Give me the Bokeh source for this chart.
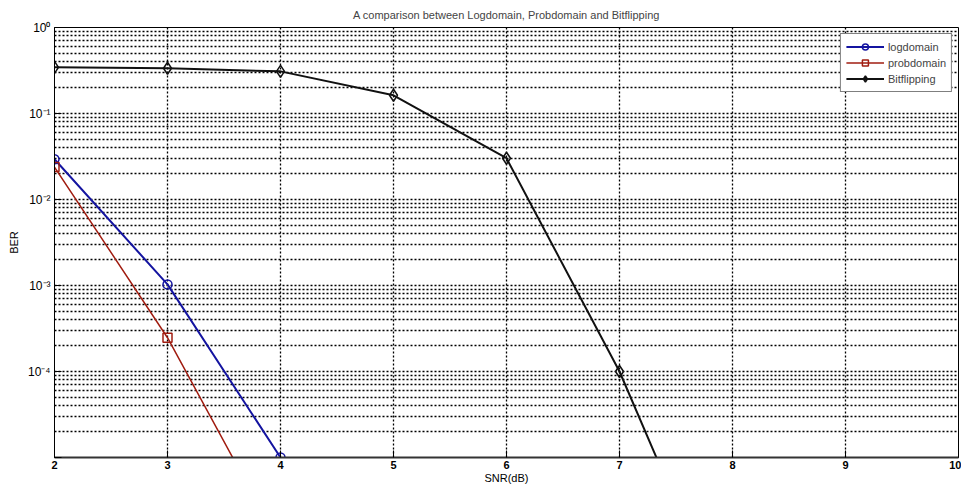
from bokeh.plotting import figure
from bokeh.models import Range1d, FixedTicker, CustomJSTickFormatter
from bokeh.embed import file_html
from bokeh.resources import INLINE

log_snr = [2, 3, 4]
log_ber = [0.0294, 0.00103, 1e-5]
prob_snr = [2, 3, 4]
prob_ber = [0.0238, 2.47e-4, 9.5e-7]
bit_snr = [2, 3, 4, 5, 6, 7, 8]
bit_ber = [0.344, 0.336, 0.309, 0.163, 0.0302, 1.0e-4, 8.7e-8]

x_ticks = [2, 3, 4, 5, 6, 7, 8, 9, 10]
y_ticks = [1e-5, 1e-4, 1e-3, 1e-2, 1e-1, 1e0]
y_minor = [m * d for d in [1e-5, 1e-4, 1e-3, 1e-2, 1e-1] for m in range(2, 10)]

FONT = "Liberation Sans"

p = figure(width=961, height=490, output_backend="svg", toolbar_location=None,
           y_axis_type="log", x_range=Range1d(2, 10), y_range=Range1d(1e-5, 1),
           min_border_left=54, min_border_right=3, min_border_top=0, min_border_bottom=33)

p.title.text = "A comparison between Logdomain, Probdomain and Bitflipping"
p.title.align = "center"
p.title.text_font = FONT
p.title.text_font_size = "11px"
p.title.text_font_style = "normal"
p.title.standoff = 13

p.outline_line_color = "black"
p.outline_line_width = 1
p.outline_line_alpha = 1
p.background_fill_color = "white"
p.border_fill_color = "white"

p.xaxis.ticker = FixedTicker(ticks=x_ticks)
p.yaxis.ticker = FixedTicker(ticks=y_ticks, minor_ticks=y_minor)
p.yaxis.formatter = CustomJSTickFormatter(code="""
const e = Math.round(Math.log10(tick));
if (e <= -5) { return ""; }
const sup = {"-": "\u207b", "0": "\u2070", "1": "\u00b9", "2": "\u00b2", "3": "\u00b3",
             "4": "\u2074", "5": "\u2075", "6": "\u2076", "7": "\u2077", "8": "\u2078", "9": "\u2079"};
return "10" + String(e).split("").map(c => sup[c]).join("");
""")

for ax in (p.xaxis, p.yaxis):
    ax.major_tick_in = 7
    ax.major_tick_out = 0
    ax.minor_tick_in = 0
    ax.minor_tick_out = 0
    ax.major_label_text_font = FONT
    ax.major_label_text_color = "black"
    ax.axis_label_text_font = FONT
    ax.axis_label_text_font_size = "11px"
    ax.axis_label_text_font_style = "normal"
    ax.axis_label_text_color = "black"
    ax.major_tick_line_color = "black"

p.xaxis.major_label_text_font_size = "11px"
p.xaxis.major_label_text_font_style = "bold"
p.yaxis.major_label_text_font_size = "12px"

p.xaxis.axis_label = "SNR(dB)"
p.yaxis.axis_label = "BER"
p.xaxis.axis_line_width = 2
p.xaxis.axis_line_color = "#333333"
p.yaxis.axis_line_color = "black"
p.xaxis.major_label_standoff = 3
p.xaxis.axis_label_standoff = 0
p.yaxis.major_label_standoff = 4
p.yaxis.axis_label_standoff = 5

for g in (p.xgrid, p.ygrid):
    g.grid_line_color = "black"
    g.grid_line_dash = "2 2"
    g.grid_line_width = 1.3
    g.grid_line_alpha = 1.0
p.ygrid.minor_grid_line_color = "black"
p.ygrid.minor_grid_line_dash = "2 2"
p.ygrid.minor_grid_line_width = 1.3
p.ygrid.minor_grid_line_alpha = 1.0

BLUE = "#1414a0"
RED = "#a01c10"
BLACK = "#111111"

p.line(log_snr, log_ber, line_color=BLUE, line_width=2, legend_label="logdomain")
p.scatter(log_snr, log_ber, marker="circle", size=9, line_color=BLUE, fill_color=None,
          line_width=1.5, legend_label="logdomain")
p.line(prob_snr, prob_ber, line_color=RED, line_width=1.5, legend_label="probdomain")
p.scatter(prob_snr, prob_ber, marker="square", size=9, line_color=RED, fill_color=None,
          line_width=1.5, legend_label="probdomain")
p.line(bit_snr, bit_ber, line_color=BLACK, line_width=2, legend_label="Bitflipping")
p.scatter(bit_snr, bit_ber, marker="diamond", size=12, line_color=BLACK, fill_color=None,
          line_width=1.5, legend_label="Bitflipping")

lg = p.legend[0]
lg.location = "top_right"
lg.margin = 6
lg.padding = 5
lg.spacing = 1
lg.label_text_font = FONT
lg.label_text_font_size = "11px"
lg.label_height = 15
lg.glyph_height = 15
lg.glyph_width = 38
lg.label_standoff = 4
lg.border_line_color = "black"
lg.border_line_width = 1
lg.background_fill_color = "white"
lg.background_fill_alpha = 1

open("out.html", "w").write(file_html(p, INLINE))
